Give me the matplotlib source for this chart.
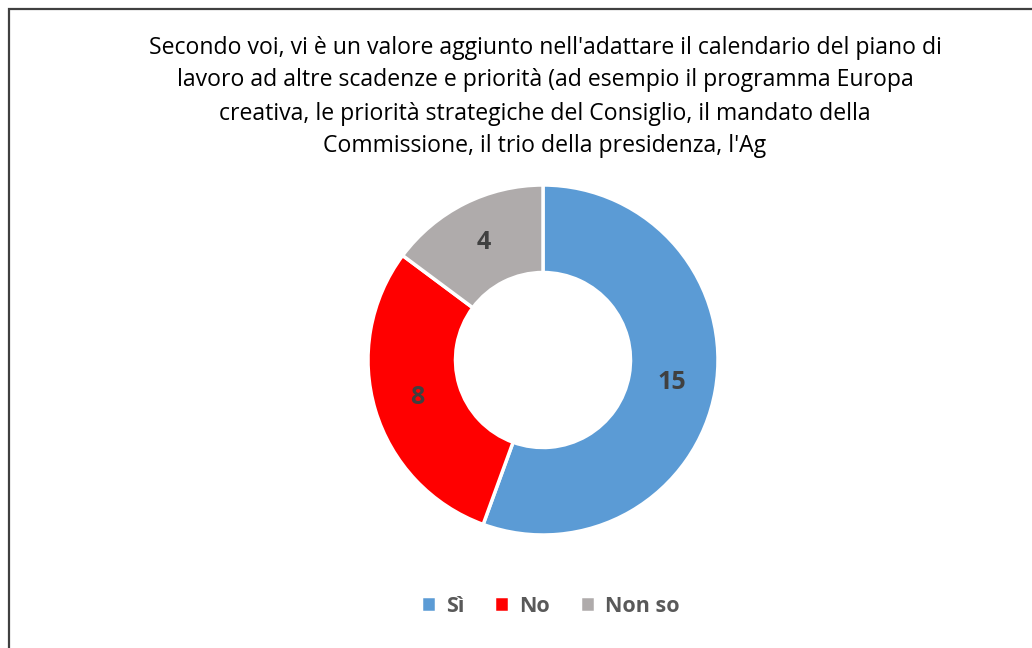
import matplotlib.pyplot as plt
from matplotlib.patches import Rectangle

labels = ['Sì', 'No', 'Non so']
values = [15, 8, 4]
colors = ['#5B9BD5', '#FF0000', '#AFABAB']
title = ("Secondo voi, vi è un valore aggiunto nell'adattare il calendario del piano di\n"
         "lavoro ad altre scadenze e priorità (ad esempio il programma Europa\n"
         "creativa, le priorità strategiche del Consiglio, il mandato della\n"
         "Commissione, il trio della presidenza, l'Ag")

plt.rcParams['font.family'] = ['Open Sans', 'DejaVu Sans']

fig = plt.figure(figsize=(10.32, 6.48), dpi=100)

# chart border (cut off at right and bottom)
fig.patches.append(Rectangle((8.5 / 1032, -0.1), 1.2, 1 - 9 / 648 + 0.1,
                             transform=fig.transFigure, fill=False,
                             edgecolor='#404040', linewidth=1.6))

fig.text(545 / 1032, 1 - 97 / 648, title, ha='center', va='center',
         fontsize=16.6, color='#000000', linespacing=1.5)

ax = fig.add_axes([(543 - 175) / 1032, (648 - 535) / 648, 350 / 1032, 350 / 648])
wedges, texts, autotexts = ax.pie(values, colors=colors, startangle=90, counterclock=False,
                                  radius=1, autopct=lambda p: '%d' % round(p * sum(values) / 100),
                                  pctdistance=0.75,
                                  wedgeprops=dict(width=0.5, edgecolor='white', linewidth=2.5),
                                  textprops=dict(fontsize=18, fontweight='bold', color='#404040'))
ax.set_xlim(-1, 1)
ax.set_ylim(-1, 1)
ax.set_aspect('equal')
ax.axis('off')

fig.legend(wedges, labels, loc='center', bbox_to_anchor=(550 / 1032, 1 - 606 / 648),
           ncol=3, frameon=False, handlelength=0.7, handleheight=0.7, handletextpad=0.45,
           columnspacing=1.4,
           prop=dict(size=15.5, weight='bold'), labelcolor='#595959')

fig.savefig('out.png', dpi=100)
